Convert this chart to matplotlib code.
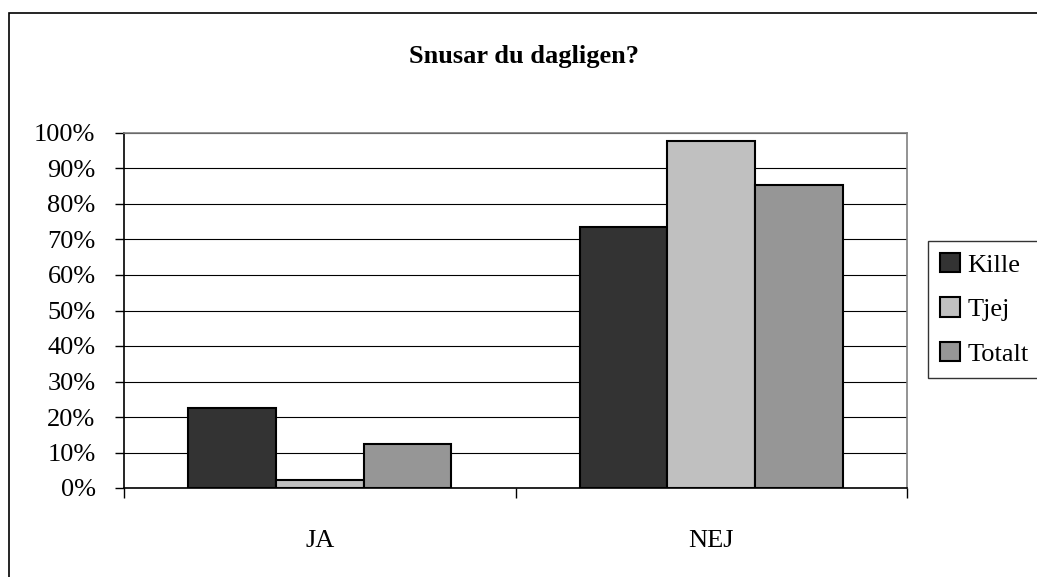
"""Grouped bar chart: Snusar du dagligen?"""

import matplotlib.pyplot as plt
import numpy as np
from matplotlib.patches import Rectangle
from matplotlib.ticker import PercentFormatter

# Data (percent)
categories = ["JA", "NEJ"]
series_names = ["Kille", "Tjej", "Totalt"]
kille = [22.4, 73.6]
tjej = [2.2, 97.7]
totalt = [12.4, 85.3]
colors = ["#333333", "#c0c0c0", "#969696"]

plt.rcParams["font.family"] = ["Liberation Serif", "DejaVu Serif"]
plt.rcParams["font.size"] = 19

W, H = 1037, 577
fig = plt.figure(figsize=(W / 100, H / 100), dpi=100)

# Outer chart border (right and bottom edges are cut off in the reference)
fig.patches.append(Rectangle((9 / W, -0.1), 1.2, 1 - 13 / H + 0.1,
                             transform=fig.transFigure, fill=False,
                             edgecolor="black", linewidth=1.2))

# Plot area in pixel coordinates
left, right, top, bottom = 124, 907, 133, 488
ax = fig.add_axes([left / W, 1 - bottom / H, (right - left) / W, (bottom - top) / H])

x = np.arange(len(categories))
width = 0.2236
for i, (vals, name, col) in enumerate(zip([kille, tjej, totalt], series_names, colors)):
    ax.bar(x + (i - 1) * width, vals, width, color=col, edgecolor="black",
           linewidth=1.5, label=name, zorder=3)

ax.set_xlim(-0.5, 1.5)
ax.set_ylim(0, 100)
ax.set_yticks(np.arange(0, 101, 10))
ax.yaxis.set_major_formatter(PercentFormatter(decimals=0))
ax.yaxis.grid(True, color="black", linewidth=0.8, zorder=0)

ax.set_xticks(x)
ax.set_xticklabels(categories)
ax.set_xticks([-0.5, 0.5, 1.5], minor=True)
ax.tick_params(axis="x", which="major", length=0, pad=30)
ax.tick_params(axis="x", which="minor", length=7, width=1, direction="out")
ax.tick_params(axis="y", length=6.5, width=1, direction="out", pad=14)

for s in ["top", "right"]:
    ax.spines[s].set_color("#808080")
    ax.spines[s].set_linewidth(1.2)
for s in ["left", "bottom"]:
    ax.spines[s].set_color("black")
    ax.spines[s].set_linewidth(1.2)

fig.text(524 / W, 1 - 57 / H, "Snusar du dagligen?", ha="center", va="center",
         fontweight="bold", fontsize=19)

leg = ax.legend(loc="upper left", bbox_to_anchor=(928 / W, 1 - 241 / H),
                bbox_transform=fig.transFigure, frameon=True, fancybox=False,
                handlelength=0.75, handleheight=0.75, handletextpad=0.3,
                labelspacing=0.78, borderpad=0.45, borderaxespad=0)
leg.get_frame().set_edgecolor("black")
leg.get_frame().set_linewidth(1)

fig.savefig("out.png", dpi=100)
